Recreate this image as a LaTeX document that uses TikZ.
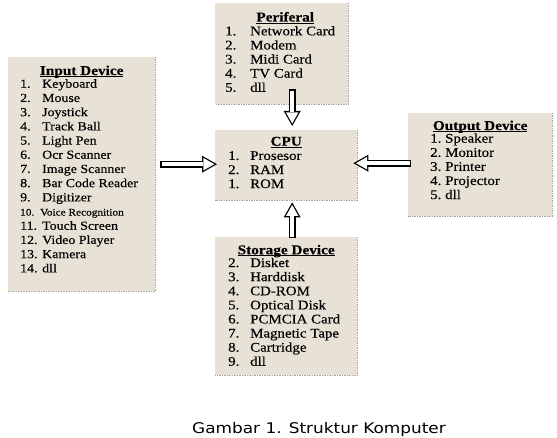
\documentclass[tikz,border=0pt]{standalone}
\usepackage{fontspec}
\setmainfont{Liberation Serif}
\newfontfamily\boxfont[FakeStretch=1.13,FakeBold=0.3]{Liberation Serif}
\newfontfamily\capfont[FakeStretch=1.15]{DejaVu Sans}
\usetikzlibrary{arrows.meta, positioning, calc}
\definecolor{paper}{RGB}{232,226,214}
\definecolor{rimGray}{RGB}{165,165,165}
\newcommand{\dev}[3][22pt]{\makebox[#1][l]{#2}#3}
\newcommand{\hdr}[1]{\underline{\smash{#1}}}

\begin{document}
\begin{tikzpicture}[x=1pt,y=-1pt,
  box/.style={fill=paper,draw=none,inner sep=0pt,anchor=north west},
  rim/.style={draw=rimGray,line width=1.5pt,dash pattern=on 1.5pt off 1pt},
  ttl/.style={font=\boxfont\fontsize{13.5}{15}\selectfont\bfseries,
              inner sep=0pt,anchor=base},
  lst/.style={font=\boxfont\fontsize{13.2}{14.1}\selectfont,
              inner sep=0pt,align=left,anchor=north west},
  pipe/.style={line width=7pt,
               -{Triangle[length=15pt,width=17pt,line width=0pt]}},
  pipehole/.style={white,line width=4.4pt,shorten <=1.3pt,shorten >=2.6pt,
               -{Triangle[length=11pt,width=12.5pt,line width=0pt]}}]
\useasboundingbox (0,0) rectangle (557,438);

% ===== Boxes =====
\node[box,minimum width=147pt,minimum height=234pt] (inp) at (8,57) {};
\node[box,minimum width=133pt,minimum height=101pt] (per) at (215,3) {};
\node[box,minimum width=142pt,minimum height=70pt] (cpu) at (215,130) {};
\node[box,minimum width=144pt,minimum height=103pt] (out) at (408,113) {};
\node[box,minimum width=142pt,minimum height=138pt] (sto) at (215,237) {};
\draw[rim] (inp.north east) -- (inp.south east) -- (inp.south west);
\draw[rim] (per.north east) -- (per.south east) -- (per.south west);
\draw[rim] (cpu.north east) -- (cpu.south east) -- (cpu.south west);
\draw[rim] (out.north east) -- (out.south east) -- (out.south west);
\draw[rim] (sto.north east) -- (sto.south east) -- (sto.south west);

% ===== Input Device =====
\node[ttl] (inpT) at ($(inp.north)+(0,18)$) {\hdr{Input Device}};
\node[lst,font=\boxfont\fontsize{12.3}{14.2}\selectfont] (inpL)
  at ($(inp.north west)+(12,22)$)
  {\dev{1.}{Keyboard}\\ \dev{2.}{Mouse}\\ \dev{3.}{Joystick}\\
   \dev{4.}{Track Ball}\\ \dev{5.}{Light Pen}\\ \dev{6.}{Ocr Scanner}\\
   \dev{7.}{Image Scanner}\\ \dev{8.}{Bar Code Reader}\\ \dev{9.}{Digitizer}\\
   {\fontsize{10}{14.2}\selectfont\dev[20pt]{10.}{Voice Recognition}}\\
   \dev{11.}{Touch Screen}\\ \dev{12.}{Video Player}\\ \dev{13.}{Kamera}\\
   \dev{14.}{dll}};

% ===== Periferal =====
\node[ttl] (perT) at ($(per.north)+(3.5,18.5)$) {\hdr{Periferal}};
\node[lst] (perL) at ($(per.north west)+(10,23)$)
  {\dev[25pt]{1.}{Network Card}\\ \dev[25pt]{2.}{Modem}\\
   \dev[25pt]{3.}{Midi Card}\\ \dev[25pt]{4.}{TV Card}\\ \dev[25pt]{5.}{dll}};

% ===== CPU =====
\node[ttl] (cpuT) at ($(cpu.north)+(0,15.7)$) {\hdr{CPU}};
\node[lst] (cpuL) at ($(cpu.north west)+(13,21)$)
  {\dev{1.}{Prosesor}\\ \dev{2.}{RAM}\\ \dev{1.}{ROM}};

% ===== Output Device =====
\node[ttl] (outT) at ($(out.north)+(0,17)$) {\hdr{Output Device}};
\node[lst] (outL) at ($(out.north west)+(22,20.3)$)
  {\dev[15pt]{1.}{Speaker}\\ \dev[15pt]{2.}{Monitor}\\ \dev[15pt]{3.}{Printer}\\
   \dev[15pt]{4.}{Projector}\\ \dev[15pt]{5.}{dll}};

% ===== Storage Device =====
\node[ttl] (stoT) at ($(sto.north)+(0,17.3)$) {\hdr{Storage Device}};
\node[lst] (stoL) at ($(sto.north west)+(13,20.7)$)
  {\dev{2.}{Disket}\\ \dev{3.}{Harddisk}\\ \dev{4.}{CD-ROM}\\
   \dev{5.}{Optical Disk}\\ \dev{6.}{PCMCIA Card}\\ \dev{7.}{Magnetic Tape}\\
   \dev{8.}{Cartridge}\\ \dev{9.}{dll}};

% ===== Arrows into CPU =====
\coordinate (inTail) at ($(inp.east |- cpu.west)+(5,-1)$);
\coordinate (inTip) at ($(cpu.west)+(2,-1)$);
\coordinate (outTail) at ($(out.west |- cpu.east)+(3,-2)$);
\coordinate (outTip) at ($(cpu.east)+(-4,-2)$);
\coordinate (perTail) at ($(cpu.north |- per.south)+(6,-15)$);
\coordinate (perTip) at ($(cpu.north)+(6,-4)$);
\coordinate (stoTail) at ($(cpu.south |- sto.north)+(6,1)$);
\coordinate (stoTip) at ($(cpu.south)+(6,2)$);
\draw[pipe] (inTail) -- (inTip);   \draw[pipehole] (inTail) -- (inTip);
\draw[pipe] (outTail) -- (outTip); \draw[pipehole] (outTail) -- (outTip);
\draw[pipe] (perTail) -- (perTip); \draw[pipehole] (perTail) -- (perTip);
\draw[pipe] (stoTail) -- (stoTip); \draw[pipehole] (stoTail) -- (stoTip);

% ===== Caption =====
\node[font=\capfont\fontsize{14.7}{17}\selectfont,anchor=base,inner sep=0pt]
  (cap) at (319,433) {Gambar 1. Struktur Komputer};
\end{tikzpicture}
\end{document}
